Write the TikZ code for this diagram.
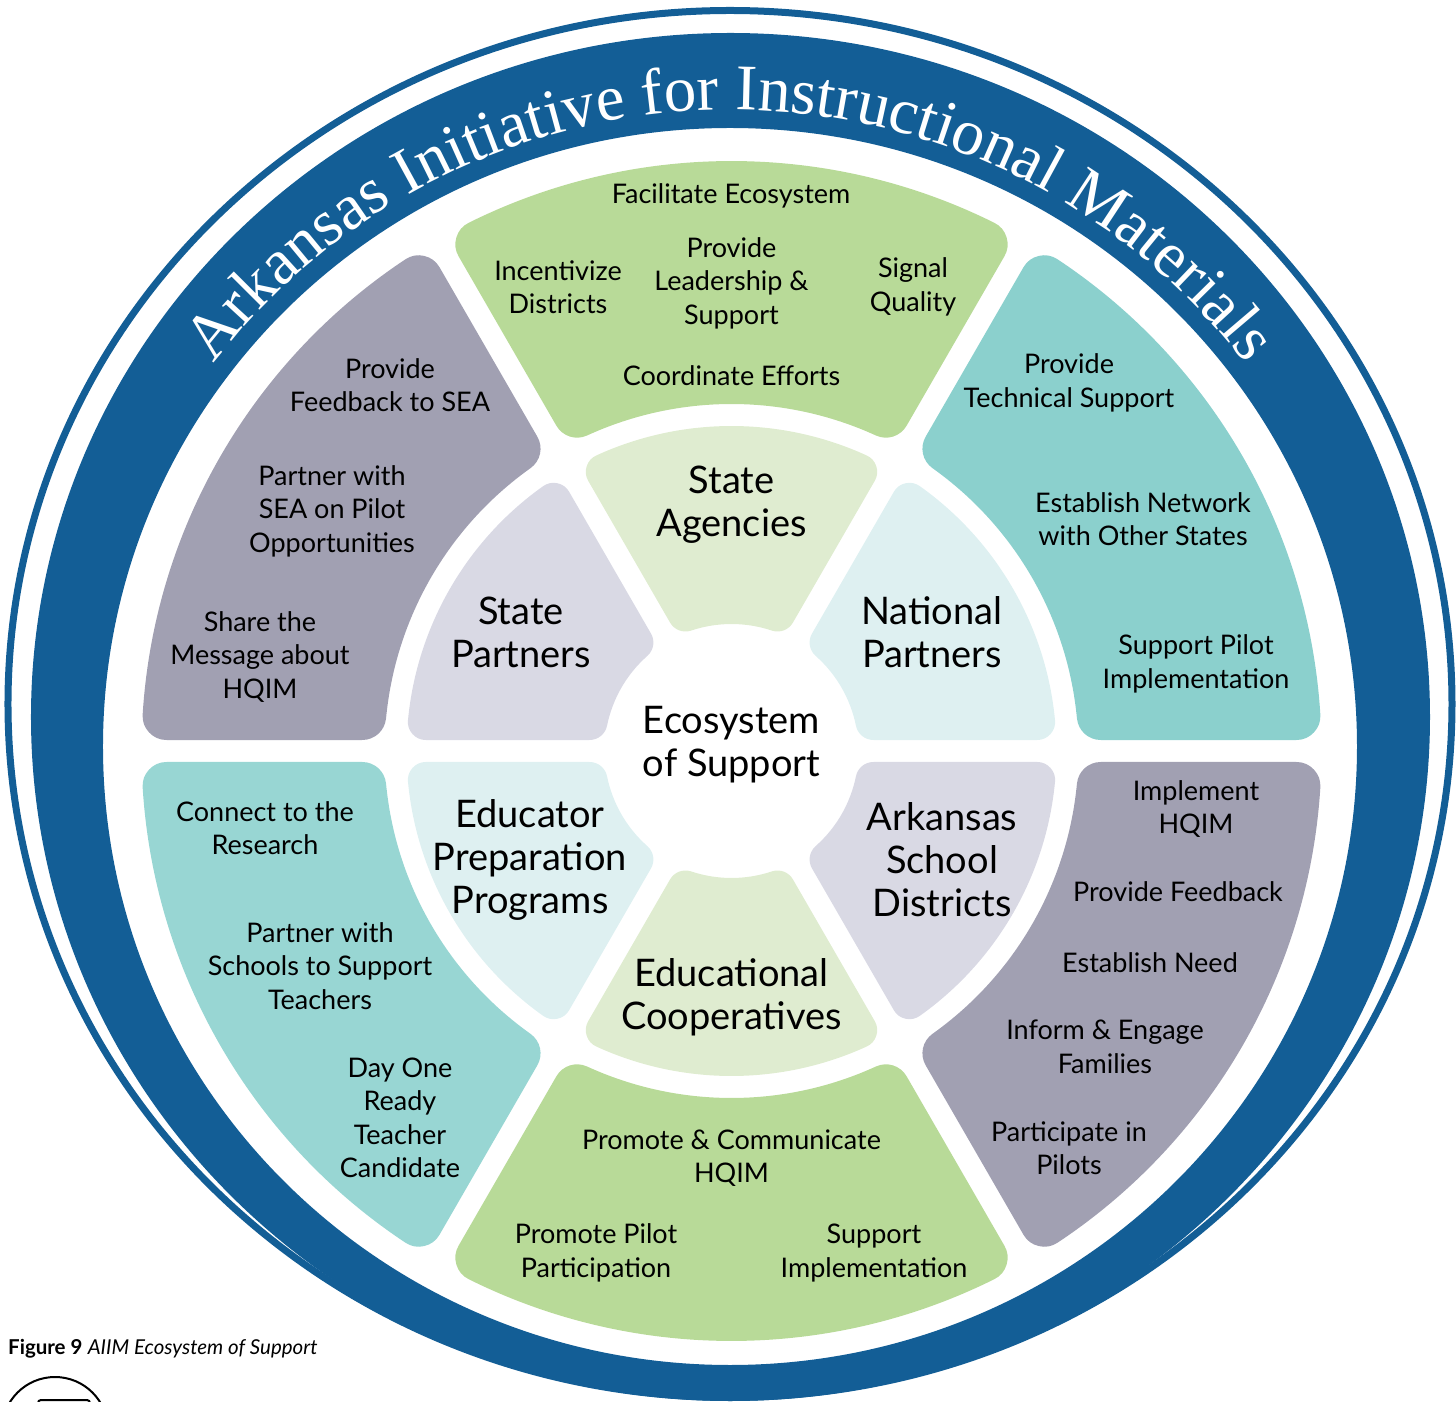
\documentclass[tikz,border=0pt]{standalone}
\usepackage{fontspec}
\setmainfont{Lato}
\newfontfamily\bandfont{Liberation Serif}
\usetikzlibrary{decorations.text}

\definecolor{ringblue}{RGB}{19,94,150}
\definecolor{ogreen}{RGB}{184,218,152}
\definecolor{oteal}{RGB}{139,208,205}
\definecolor{otealb}{RGB}{152,214,211}
\definecolor{ogray}{RGB}{161,160,178}
\definecolor{igreen}{RGB}{223,236,208}
\definecolor{icyan}{RGB}{222,240,241}
\definecolor{ilav}{RGB}{217,217,228}

\def\seggap{11}
\newcommand{\segfill}[6]{%
	\filldraw[#1, line width={2*#6}, line join=round]
		({#2+asin((\seggap+#6)/(#4+#6))}:{#4+#6})
		-- ({#2+asin((\seggap+#6)/(#5-#6))}:{#5-#6})
		arc[start angle={#2+asin((\seggap+#6)/(#5-#6))}, end angle={#3-asin((\seggap+#6)/(#5-#6))}, radius={#5-#6}]
		-- ({#3-asin((\seggap+#6)/(#4+#6))}:{#4+#6})
		arc[start angle={#3-asin((\seggap+#6)/(#4+#6))}, end angle={#2+asin((\seggap+#6)/(#4+#6))}, radius={#4+#6}]
		-- cycle;}

\begin{document}
\begin{tikzpicture}[x=1pt, y=1pt,
	lbl/.style={align=center, text=black, font=\fontsize{27}{33.5}\selectfont},
	big/.style={align=center, text=black, font=\fontsize{38}{43}\selectfont}]

	\useasboundingbox (-731.5,-651) rectangle (724.5,751);

	\draw[ringblue, line width=7] (-1.5,47) ellipse [x radius=722, y radius=693.5];
	\fill[ringblue, even odd rule] (-1,34) ellipse [x radius=699.5, y radius=684] (-1.5,4.5) ellipse [x radius=627, y radius=618.5];

	\path[decorate, decoration={text along path, text align=center,
		text={|\bandfont\fontsize{65}{65}\selectfont\color{white}|Arkansas Initiative for Instructional Materials}}]
		(-1.5,4.5) ++(160:645 and 636.5) arc[start angle=160, end angle=20, x radius=645, y radius=636.5];

	\segfill{ogreen}{60}{120}{347}{590}{24}
	\segfill{oteal}{0}{60}{347}{590}{24}
	\segfill{ogray}{-60}{0}{347}{590}{24}
	\segfill{ogreen}{-120}{-60}{347}{590}{24}
	\segfill{otealb}{180}{240}{347}{590}{24}
	\segfill{ogray}{120}{180}{347}{590}{24}

	\segfill{igreen}{60}{120}{127}{325}{18}
	\segfill{icyan}{0}{60}{127}{325}{18}
	\segfill{ilav}{-60}{0}{127}{325}{18}
	\segfill{igreen}{-120}{-60}{127}{325}{18}
	\segfill{icyan}{180}{240}{127}{325}{18}
	\segfill{ilav}{120}{180}{127}{325}{18}

	\node[lbl] (facil) at (-0.5,555) {Facilitate Ecosystem};
	\node[lbl] (incent) at (-173.5,464) {Incentivize\\Districts};
	\node[lbl] (lead) at (0,468) {Provide\\Leadership \&\\Support};
	\node[lbl] (signal) at (181.5,464) {Signal\\Quality};
	\node[lbl] (coord) at (0,375) {Coordinate Efforts};

	\node[lbl] (techsup) at (337.5,368) {Provide\\Technical Support};
	\node[lbl] (network) at (411.5,232) {Establish Network\\with Other States};
	\node[lbl] (pilotsup) at (464.5,87) {Support Pilot\\Implementation};

	\node[lbl] (implem) at (464.5,-58) {Implement\\HQIM};
	\node[lbl] (feedb) at (446.5,-141) {Provide Feedback};
	\node[lbl] (need) at (418.5,-212) {Establish Need};
	\node[lbl] (families) at (373.5,-296) {Inform \& Engage\\Families};
	\node[lbl] (pilots) at (337.5,-397) {Participate in\\Pilots};

	\node[lbl] (promote) at (0,-407) {Promote \& Communicate\\HQIM};
	\node[lbl] (partic) at (-135.5,-502) {Promote Pilot\\Participation};
	\node[lbl] (suppimp) at (142.5,-502) {Support\\Implementation};

	\node[lbl] (research) at (-466.5,-77) {Connect to the\\Research};
	\node[lbl] (schools) at (-411.5,-215) {Partner with\\Schools to Support\\Teachers};
	\node[lbl] (dayone) at (-331.5,-367) {Day One\\Ready\\Teacher\\Candidate};

	\node[lbl] (seafeed) at (-341.5,366) {Provide\\Feedback to SEA};
	\node[lbl] (seapilot) at (-399.5,240) {Partner with\\SEA on Pilot\\Opportunities};
	\node[lbl] (message) at (-471.5,94) {Share the\\Message about\\HQIM};

	\node[big] (agencies) at (0,246) {State\\Agencies};
	\node[big] (national) at (200.5,119) {National\\Partners};
	\node[big] (districts) at (210.5,-109) {Arkansas\\School\\Districts};
	\node[big] (coops) at (0,-246) {Educational\\Cooperatives};
	\node[big] (educprep) at (-201.5,-109) {Educator\\Preparation\\Programs};
	\node[big] (spartners) at (-210.5,119) {State\\Partners};
	\node[big] (ecosys) at (0,6) {Ecosystem\\of Support};

	\node[anchor=west, inner sep=0, font=\fontsize{20.5}{24}\selectfont] (caption) at (-723.5,-598) {\textbf{Figure 9} \textit{AIIM Ecosystem of Support}};

	\draw[line width=2] (-676.5,-679) circle (53);
	\draw[line width=2, rounded corners=3] (-693.5,-665) rectangle (-641.5,-649);

\end{tikzpicture}
\end{document}
